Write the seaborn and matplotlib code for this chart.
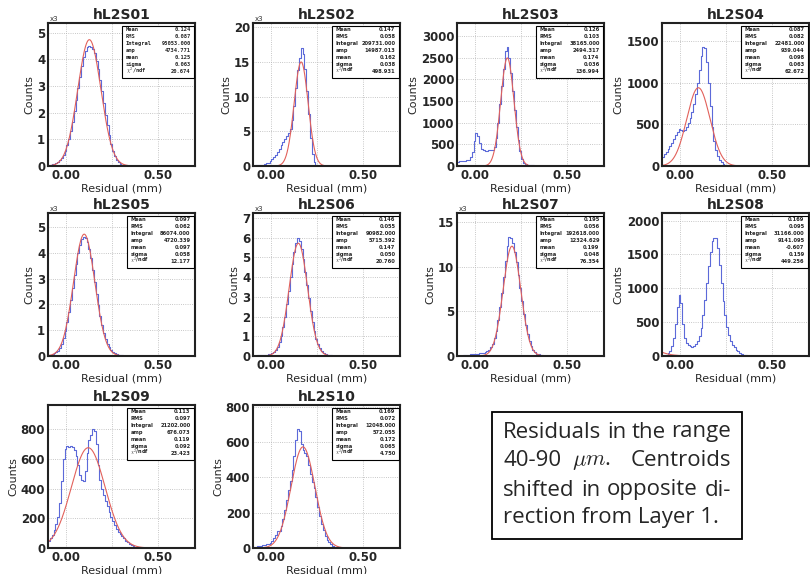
import numpy as np
import pandas as pd
import matplotlib
matplotlib.use("Agg")
import matplotlib.pyplot as plt
from matplotlib.patches import Rectangle
from matplotlib.ticker import MultipleLocator
import seaborn as sns

# residual histograms, 0.01 mm bins from -0.10 mm; counts listed from the first bin
bin_edges = np.round(np.arange(-0.10, 0.7001, 0.01), 3)

names = ["hL2S01", "hL2S02", "hL2S03", "hL2S04", "hL2S05",
         "hL2S06", "hL2S07", "hL2S08", "hL2S09", "hL2S10"]

# panels with kilo=True are in units of 10^3 counts
kilo = [True, True, False, False, True, True, True, False, False, False]

h01 = [0.04, 0.05, 0.07, 0.09, 0.12, 0.16, 0.22, 0.30, 0.42, 0.58,
       0.78, 1.02, 1.32, 1.66, 2.05, 2.48, 2.92, 3.35, 3.75, 4.08,
       4.32, 4.45, 4.48, 4.47, 4.40, 4.22, 3.95, 3.62, 3.22, 2.80,
       2.36, 1.92, 1.52, 1.15, 0.84, 0.58, 0.38, 0.24, 0.14, 0.08,
       0.05, 0.03, 0.02, 0.01]
h02 = [0.05, 0.08, 0.10, 0.12, 0.15, 0.20, 0.28, 0.38, 0.50, 0.68,
       0.95, 1.25, 1.60, 2.00, 2.50, 3.00, 3.50, 3.90, 4.30, 4.70,
       5.30, 6.60, 8.70, 11.3, 13.8, 15.6, 17.0, 16.2, 14.0, 10.8,
       7.5, 4.0, 1.8, 0.6, 0.2, 0.05]
h03 = [100, 105, 110, 115, 120, 130, 150, 200, 330, 580,
       760, 700, 520, 400, 360, 350, 355, 360, 370, 380,
       450, 650, 1000, 1420, 1850, 2250, 2650, 2750, 2500, 2150,
       1720, 1300, 900, 600, 340, 170, 80, 40, 30, 25,
       20, 15, 10, 5]
h04 = [110, 140, 170, 200, 240, 280, 320, 370, 410, 440,
       430, 420, 430, 470, 520, 580, 650, 740, 860, 1000,
       1150, 1320, 1430, 1420, 1250, 1000, 720, 470, 300, 190,
       120, 75, 45, 28, 18, 10, 5]
h05 = [0.04, 0.05, 0.07, 0.10, 0.14, 0.21, 0.32, 0.48, 0.70, 0.98,
       1.32, 1.72, 2.16, 2.64, 3.12, 3.58, 3.98, 4.30, 4.52, 4.62,
       4.58, 4.42, 4.15, 3.78, 3.34, 2.88, 2.42, 1.98, 1.56, 1.20,
       0.90, 0.66, 0.47, 0.33, 0.23, 0.16, 0.11, 0.08, 0.05, 0.04,
       0.02, 0.01]
h06 = [0.02, 0.02, 0.03, 0.03, 0.04, 0.04, 0.05, 0.06, 0.08, 0.10,
       0.14, 0.20, 0.30, 0.46, 0.70, 1.03, 1.47, 2.00, 2.62, 3.30,
       4.00, 4.68, 5.25, 5.72, 6.00, 5.85, 5.45, 4.92, 4.28, 3.60,
       2.92, 2.28, 1.72, 1.25, 0.88, 0.60, 0.40, 0.26, 0.17, 0.11,
       0.07, 0.05, 0.03, 0.02, 0.01]
h07 = [0.02, 0.03, 0.05, 0.08, 0.10, 0.13, 0.16, 0.18, 0.20, 0.22,
       0.25, 0.28, 0.30, 0.32, 0.36, 0.42, 0.52, 0.70, 0.98, 1.40,
       2.00, 2.85, 4.00, 5.45, 7.10, 8.90, 10.70, 12.30, 13.35, 13.30,
       12.70, 11.70, 10.50, 9.10, 7.65, 6.15, 4.75, 3.50, 2.50, 1.70,
       1.12, 0.72, 0.45, 0.28, 0.17, 0.10, 0.06, 0.03, 0.01]
h08 = [5, 10, 20, 40, 80, 150, 270, 480, 720, 900,
       780, 480, 270, 190, 160, 145, 140, 145, 170, 220,
       300, 420, 600, 830, 1080, 1330, 1540, 1700, 1750, 1740,
       1600, 1350, 1080, 820, 600, 430, 310, 220, 160, 130,
       95, 70, 45, 28, 16, 10, 6, 4, 2]
h09 = [50, 70, 90, 120, 160, 210, 300, 450, 600, 670,
       690, 680, 690, 680, 660, 620, 560, 490, 460, 450,
       520, 640, 730, 760, 800, 790, 700, 560, 460, 400,
       360, 320, 280, 240, 210, 180, 155, 130, 110, 95,
       80, 65, 50, 38, 27, 18, 12, 8, 5, 3, 2]
h10 = [5, 7, 9, 11, 13, 15, 18, 20, 24, 30,
       40, 55, 75, 95, 95, 125, 165, 215, 270, 330,
       380, 440, 520, 610, 675, 660, 590, 555, 540, 520,
       470, 420, 375, 340, 290, 230, 180, 135, 100, 70,
       48, 32, 20, 12, 7, 4, 2]
hists = [h01, h02, h03, h04, h05, h06, h07, h08, h09, h10]

# gaussian fit results printed in the stat boxes
fit_amp = [4734.771, 14987.013, 2494.317, 939.044, 4720.339,
           5715.392, 12324.629, 9141.095, 676.073, 572.055]
fit_mean = [0.125, 0.162, 0.174, 0.098, 0.097, 0.147, 0.199, -0.607, 0.119, 0.172]
fit_sigma = [0.063, 0.038, 0.036, 0.063, 0.058, 0.050, 0.048, 0.159, 0.092, 0.065]
h_mean = ["0.124", "0.147", "0.126", "0.087", "0.097", "0.146", "0.195", "0.169", "0.113", "0.169"]
h_rms = ["0.087", "0.058", "0.103", "0.082", "0.062", "0.055", "0.056", "0.095", "0.097", "0.072"]
h_integral = ["95053.000", "209731.000", "38165.000", "22481.000", "86074.000",
              "90982.000", "192618.000", "31166.000", "21202.000", "12048.000"]
chi2_ndf = ["20.674", "498.931", "136.994", "62.672", "12.177",
            "20.760", "76.354", "449.256", "23.423", "4.750"]

y_top = [5.36, 20.6, 3300, 1716, 5.54, 7.25, 16.05, 2113, 964, 809]
y_step = [1, 5, 500, 500, 1, 1, 5, 500, 200, 200]

box_lines = ["Residuals in the range", "40-90 $\\mu{m}$. Centroids",
             "shifted in opposite di-", "rection from Layer 1."]

sns.set_style("white")
plt.rcParams["font.family"] = ["DejaVu Sans"]
plt.rcParams["font.weight"] = "bold"
plt.rcParams["mathtext.fontset"] = "cm"

W, H = 810, 574
fig = plt.figure(figsize=(W / 100, H / 100), dpi=100)

col_left = [48, 253, 457, 662]
row_top = [23, 213, 405]
ax_w, ax_h = 147, 143

hist_blue = "#5c6ad9"
fit_red = "#e2615b"

centers = (bin_edges[:-1] + bin_edges[1:]) / 2
fit_x = np.linspace(-0.1, 0.7, 801)
stat_labels = ["Mean", "RMS", "Integral", "amp", "mean", "sigma", r"$\chi^2$/ndf"]

for i, name in enumerate(names):
    r, c = divmod(i, 4)
    ax = fig.add_axes([col_left[c] / W, (H - row_top[r] - ax_h) / H, ax_w / W, ax_h / H])

    counts = np.zeros(len(centers))
    counts[:len(hists[i])] = hists[i]
    df = pd.DataFrame({"residual": centers, "counts": counts})
    sns.histplot(data=df, x="residual", weights="counts", binwidth=0.01, binrange=(-0.1, 0.7),
                 element="step", fill=False, color=hist_blue, linewidth=0.8, ax=ax)

    scale = 1000.0 if kilo[i] else 1.0
    fit_y = fit_amp[i] / scale * np.exp(-0.5 * ((fit_x - fit_mean[i]) / fit_sigma[i]) ** 2)
    sns.lineplot(x=fit_x, y=fit_y, color=fit_red, linewidth=0.8, ax=ax)

    ax.set_xlim(-0.1, 0.7)
    ax.set_ylim(0, y_top[i])
    ax.set_xticks([0, 0.25, 0.5], ["0.00", "", "0.50"])
    ax.xaxis.set_minor_locator(MultipleLocator(0.05))
    ax.yaxis.set_major_locator(MultipleLocator(y_step[i]))
    ax.yaxis.set_minor_locator(MultipleLocator(y_step[i] / 5))
    ax.tick_params(which="both", direction="in", labelsize=8.5, pad=2)
    ax.tick_params(which="major", length=4, width=0.8)
    ax.tick_params(which="minor", length=2, width=0.6)
    ax.grid(True, which="major", linestyle=":", color="#b5b5b5", linewidth=0.6)
    for s in ax.spines.values():
        s.set_linewidth(1.5)
        s.set_color("#222222")

    ax.set_title(name, fontsize=10, fontweight="bold", pad=3)
    ax.set_xlabel("Residual (mm)", fontsize=8, labelpad=1)
    ax.set_ylabel("Counts", fontsize=8, labelpad=2)
    if kilo[i]:
        ax.text(0.01, 1.01, "x3", transform=ax.transAxes, fontsize=5, fontweight="normal",
                color="#333333", ha="left", va="bottom")

    # stat box
    bx0 = 0.505 if i == 0 else 0.535
    ax.add_patch(Rectangle((bx0, 0.615), 0.99 - bx0, 0.365, transform=ax.transAxes,
                           facecolor="white", edgecolor="black", linewidth=0.8, zorder=5))
    vals = [h_mean[i], h_rms[i], h_integral[i], f"{fit_amp[i]:.3f}",
            f"{fit_mean[i]:.3f}", f"{fit_sigma[i]:.3f}", chi2_ndf[i]]
    fam = "DejaVu Sans Mono" if i == 0 else "DejaVu Sans"
    fs = 3.9 if i == 0 else 3.7
    for k, (lab, val) in enumerate(zip(stat_labels, vals)):
        yy = 0.952 - k * 0.048
        ax.text(bx0 + 0.025, yy, lab, transform=ax.transAxes, fontsize=fs, family=fam,
                ha="left", va="center", zorder=6)
        ax.text(0.97, yy, val, transform=ax.transAxes, fontsize=fs, family=fam,
                ha="right", va="center", zorder=6)

# comment box, justified text (sentence gap a bit wider, as TeX does)
fig.add_artist(Rectangle((492 / W, (H - 539) / H), 250 / W, 127 / H, transform=fig.transFigure,
                         fill=False, edgecolor="black", linewidth=1.3))
renderer = fig.canvas.get_renderer()
x_l, x_r = 503 / W, 731 / W
line_y = [432, 461, 490, 518]
box_font = dict(family="Open Sans", fontweight="normal", fontsize=16, va="center", ha="left")
for n, (line, yy) in enumerate(zip(box_lines, line_y)):
    if n == len(box_lines) - 1:
        fig.text(x_l, (H - yy) / H, line, **box_font)
        continue
    words = line.split()
    arts = [fig.text(0, (H - yy) / H, w, **box_font) for w in words]
    widths = [a.get_window_extent(renderer).width / fig.bbox.width for a in arts]
    weights = [1.8 if w.endswith(".") else 1.0 for w in words[:-1]]
    unit = (x_r - x_l - sum(widths)) / sum(weights)
    x = x_l
    for k, (a, w) in enumerate(zip(arts, widths)):
        a.set_x(x)
        if k < len(weights):
            x += w + unit * weights[k]

fig.savefig("out.png", dpi=100)
